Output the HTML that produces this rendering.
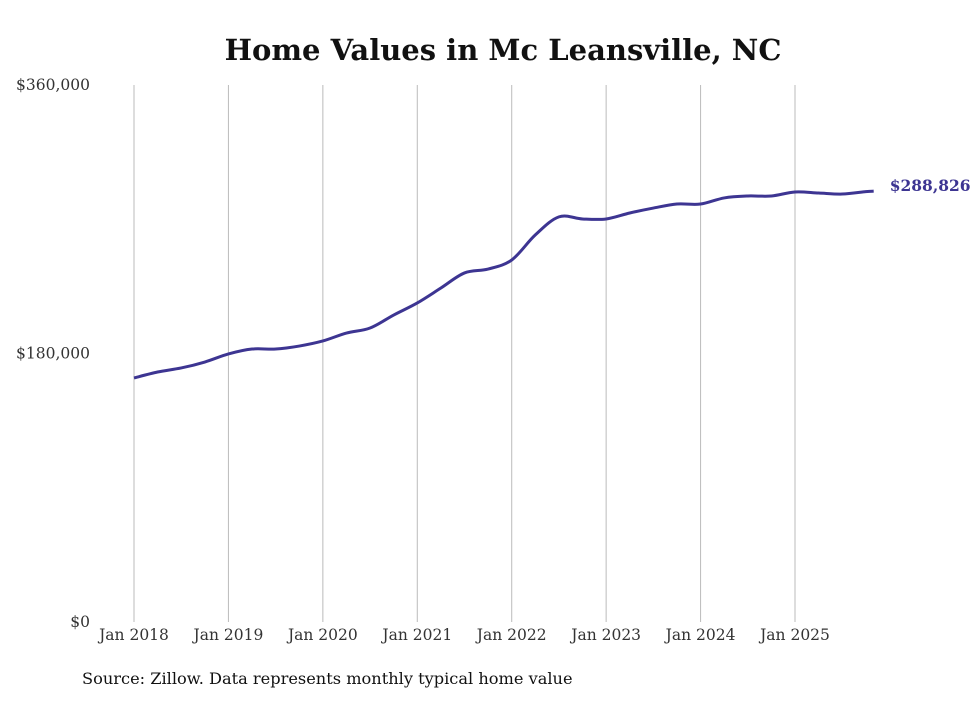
<!DOCTYPE html>
<html><head><meta charset="utf-8">
<style>
html,body{margin:0;padding:0;background:#fff;}
svg text{font-family:"DejaVu Serif","Liberation Serif",serif;}
</style></head>
<body>
<svg width="980" height="699" viewBox="0 0 980 699">
<text x="503" y="60" text-anchor="middle" font-size="29" font-weight="bold" fill="#111">Home Values in Mc Leansville, NC</text>
<g id="grid"></g>
<g id="yaxis"></g>
<g id="xaxis"></g>
<path id="line" fill="none" stroke="#3d3592" stroke-width="3"/>
<text id="endlabel" font-size="15.5" font-weight="bold" fill="#3d3592"></text>
<text x="82" y="684" font-size="16.2" fill="#111">Source: Zillow. Data represents monthly typical home value</text>
</svg>
<script>
const xTickLabels=["Jan 2018","Jan 2019","Jan 2020","Jan 2021","Jan 2022","Jan 2023","Jan 2024","Jan 2025"];
const yTickValues=[0,180000,360000];
const yTickLabels=["$0","$180,000","$360,000"];
// months since Jan 2018
const months=[0,3,6,9,12,15,18,21,24,27,30,33,36,39,42,45,48,51,54,57,60,63,66,69,72,75,78,81,84,87,90,93,94];
const values=[163600,167600,170300,174300,179700,183000,183000,185000,188400,193700,197100,205800,213900,223900,234000,236600,242700,259500,271600,270200,270200,274200,277500,280200,280200,284300,285600,285600,288300,287600,286900,288500,288826];
const lastLabel="$288,826";

const NS="http://www.w3.org/2000/svg";
const x=m=>134+m*(661/84);
const y=v=>622-v*(537/360000);
function mk(tag,attrs,parent,text){const e=document.createElementNS(NS,tag);for(const k in attrs)e.setAttribute(k,attrs[k]);if(text!==undefined)e.textContent=text;parent.appendChild(e);return e;}
const grid=document.getElementById('grid'),xa=document.getElementById('xaxis'),ya=document.getElementById('yaxis');
xTickLabels.forEach((t,i)=>{
 const gx=x(i*12);
 const l=mk('line',{x1:gx,x2:gx,y1:85,y2:622,stroke:'#bbb','stroke-width':1},grid);
 
 
 const tx=mk('text',{x:gx,y:640,'text-anchor':'middle','font-size':15.5,fill:'#333'},xa,t);
 
 
});
yTickValues.forEach((v,i)=>{
 const tx=mk('text',{x:90,y:y(v)+5,'text-anchor':'end','font-size':15.5,fill:'#333'},ya,yTickLabels[i]);
 
 
});
const pts=months.map((m,i)=>[x(m),y(values[i])]);
let d="M"+pts[0][0]+","+pts[0][1];
for(let i=0;i<pts.length-1;i++){
 const p0=pts[i-1]||pts[i],p1=pts[i],p2=pts[i+1],p3=pts[i+2]||p2;
 const c1=[p1[0]+(p2[0]-p0[0])/6,p1[1]+(p2[1]-p0[1])/6];
 const c2=[p2[0]-(p3[0]-p1[0])/6,p2[1]-(p3[1]-p1[1])/6];
 d+=" C"+c1+" "+c2+" "+p2;
}
document.getElementById('line').setAttribute('d',d);
const el=document.getElementById('endlabel');
const lp=pts[pts.length-1];
el.setAttribute('x',lp[0]+16);el.setAttribute('y',lp[1]);
el.textContent=lastLabel;
</script>
</body></html>
